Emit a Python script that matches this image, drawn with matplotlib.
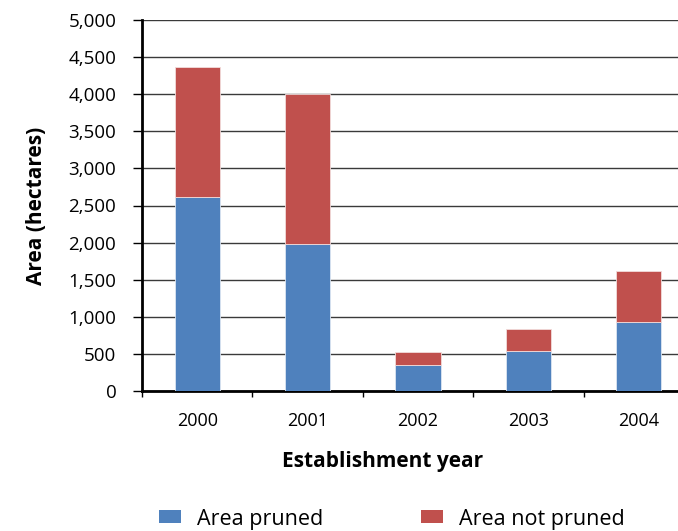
import matplotlib.pyplot as plt
import matplotlib.ticker as mticker
from matplotlib.patches import Patch
import numpy as np

years = ['2000', '2001', '2002', '2003', '2004']
area_pruned = [2620, 1975, 350, 540, 925]
area_not_pruned = [1750, 2025, 172, 290, 687]

plt.rcParams['font.family'] = ['Open Sans', 'DejaVu Sans']

W, H = 678, 531
fig = plt.figure(figsize=(W / 100, H / 100), dpi=100)
ax = fig.add_axes([142 / W, 1 - 391 / H, 552 / W, 371 / H])

blue, red = '#4F81BD', '#C0504D'
x = np.arange(len(years))
ax.bar(x, area_pruned, width=0.41, color=blue, edgecolor='#dce6f2',
       linewidth=0.6, zorder=3)
ax.bar(x, area_not_pruned, width=0.41, bottom=area_pruned, color=red,
       edgecolor='#f2dcdb', linewidth=0.6, zorder=3)

ax.set_xlim(-0.5, 4.5)
ax.set_ylim(0, 5000)
ax.yaxis.set_major_locator(mticker.MultipleLocator(500))
ax.yaxis.set_major_formatter(mticker.FuncFormatter(lambda v, p: f'{int(v):,}'))
ax.grid(axis='y', color='#3a3a3a', linewidth=1.0, zorder=0)
ax.set_axisbelow(True)

# ticks between categories, labels centred under bars
ax.set_xticks(np.arange(-0.5, 4.6, 1.0))
ax.set_xticklabels([])
ax.set_xticks(x, minor=True)
ax.set_xticklabels(years, minor=True)
ax.tick_params(axis='x', which='minor', length=0, pad=15, labelsize=13)
ax.tick_params(axis='x', which='major', length=4, width=1, direction='out')
ax.tick_params(axis='y', length=6.5, width=1, direction='out', labelsize=13.5, pad=12)

for s in ['top', 'right']:
    ax.spines[s].set_visible(False)
ax.spines['left'].set_linewidth(2)
ax.spines['bottom'].set_linewidth(2)

ax.set_ylabel('Area (hectares)', fontsize=15, fontweight='bold')
ax.yaxis.set_label_coords((47 - 142) / 552, 0.5)
ax.set_xlabel('Establishment year', fontsize=15, fontweight='bold')
ax.xaxis.set_label_coords((383 - 142) / 552, (391 - 451) / 371)

# two legend entries placed separately along the bottom
for label, color, px in [('Area pruned', blue, 159), ('Area not pruned', red, 421)]:
    fig.legend(handles=[Patch(facecolor=color, label=label)], loc='center left',
               bbox_to_anchor=(px / W, 1 - 519 / H), frameon=False, fontsize=15.5,
               handlelength=1.0, handleheight=0.55, handletextpad=0.75,
               borderpad=0, borderaxespad=0)

fig.savefig('out.png', dpi=100)
